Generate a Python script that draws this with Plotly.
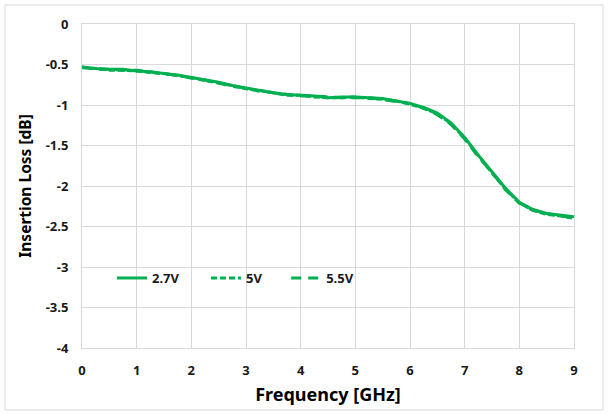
import plotly.graph_objects as go

freq = [i * 0.25 for i in range(37)]
loss_27 = [-0.53, -0.55, -0.56, -0.56, -0.58, -0.59, -0.61, -0.63, -0.66, -0.69, -0.72, -0.76, -0.79,
           -0.82, -0.85, -0.87, -0.88, -0.89, -0.91, -0.90, -0.90, -0.91, -0.92, -0.95, -0.98, -1.03,
           -1.10, -1.22, -1.40, -1.62, -1.82, -2.03, -2.20, -2.29, -2.34, -2.36, -2.38]
loss_5 = [-0.54, -0.55, -0.57, -0.57, -0.58, -0.60, -0.61, -0.64, -0.66, -0.70, -0.73, -0.76, -0.80,
          -0.82, -0.85, -0.88, -0.88, -0.90, -0.91, -0.91, -0.90, -0.92, -0.93, -0.95, -0.99, -1.04,
          -1.11, -1.23, -1.41, -1.63, -1.84, -2.04, -2.21, -2.30, -2.35, -2.37, -2.40]
loss_55 = [-0.53, -0.56, -0.56, -0.57, -0.57, -0.59, -0.62, -0.63, -0.67, -0.69, -0.73, -0.77, -0.79,
           -0.83, -0.85, -0.87, -0.89, -0.89, -0.90, -0.91, -0.91, -0.91, -0.93, -0.96, -0.98, -1.04,
           -1.12, -1.24, -1.42, -1.64, -1.83, -2.05, -2.21, -2.30, -2.34, -2.37, -2.39]

series_names = ["2.7V", "5V", "5.5V"]
x_ticks = list(range(10))
x_tick_labels = [str(v) for v in x_ticks]
y_ticks = [0, -0.5, -1, -1.5, -2, -2.5, -3, -3.5, -4]
y_tick_labels = ["0", "-0.5", "-1", "-1.5", "-2", "-2.5", "-3", "-3.5", "-4"]

green = "#00B050"
font_fam = "Noto Sans"
txt = "#1a1a1a"

fig = go.Figure()
fig.add_trace(go.Scatter(x=freq, y=loss_27, mode="lines", name=series_names[0], showlegend=True,
                         line=dict(color=green, width=3), legend="legend"))
fig.add_trace(go.Scatter(x=freq, y=loss_5, mode="lines", name=series_names[1], showlegend=True,
                         line=dict(color=green, width=3, dash="6px,3px"), legend="legend2"))
fig.add_trace(go.Scatter(x=freq, y=loss_55, mode="lines", name=series_names[2], showlegend=True,
                         line=dict(color=green, width=3, dash="10px,7px"), legend="legend3"))

leg_common = dict(yanchor="middle", xanchor="left", bgcolor="rgba(0,0,0,0)",
                  font=dict(family=font_fam, size=13, color=txt, weight="bold"),
                  borderwidth=0)

fig.update_layout(
    width=609, height=415,
    showlegend=True,
    margin=dict(l=82, r=35, t=24, b=67, autoexpand=False),
    paper_bgcolor="white", plot_bgcolor="white",
    legend=dict(x=0.061, y=0.216, **leg_common),
    legend2=dict(x=0.252, y=0.216, **leg_common),
    legend3=dict(x=0.415, y=0.216, **leg_common),
    xaxis=dict(range=[0, 9], tickvals=x_ticks, ticktext=x_tick_labels, automargin=False,
               showgrid=True, gridcolor="#d9d9d9", gridwidth=1,
               showline=True, linecolor="#d9d9d9", mirror=True, zeroline=False,
               ticks="", ticklabelstandoff=10,
               tickfont=dict(family=font_fam, size=13, color=txt, weight="bold"),
               title=dict(text="Frequency [GHz]", standoff=10,
                          font=dict(family=font_fam, size=18, color="#000000", weight="bold"))),
    yaxis=dict(range=[-4, 0], tickvals=y_ticks, ticktext=y_tick_labels, automargin=False,
               showgrid=True, gridcolor="#d9d9d9", gridwidth=1,
               showline=True, linecolor="#d9d9d9", mirror=True, zeroline=False,
               ticks="", ticklabelstandoff=10,
               tickfont=dict(family=font_fam, size=13, color=txt, weight="bold"),
               title=dict(text="Insertion Loss [dB]", standoff=10,
                          font=dict(family=font_fam, size=15.5, color="#000000", weight="bold"))),
)

fig.add_shape(type="rect", xref="paper", yref="paper",
              x0=(5 - 82) / 492, x1=(603 - 82) / 492,
              y0=(348 - 410) / 324, y1=(348 - 5) / 324,
              line=dict(color="#d9d9d9", width=1), layer="below")

fig.write_html("out.html", post_script="document.body.style.margin='0';",
               config={"displayModeBar": False})
